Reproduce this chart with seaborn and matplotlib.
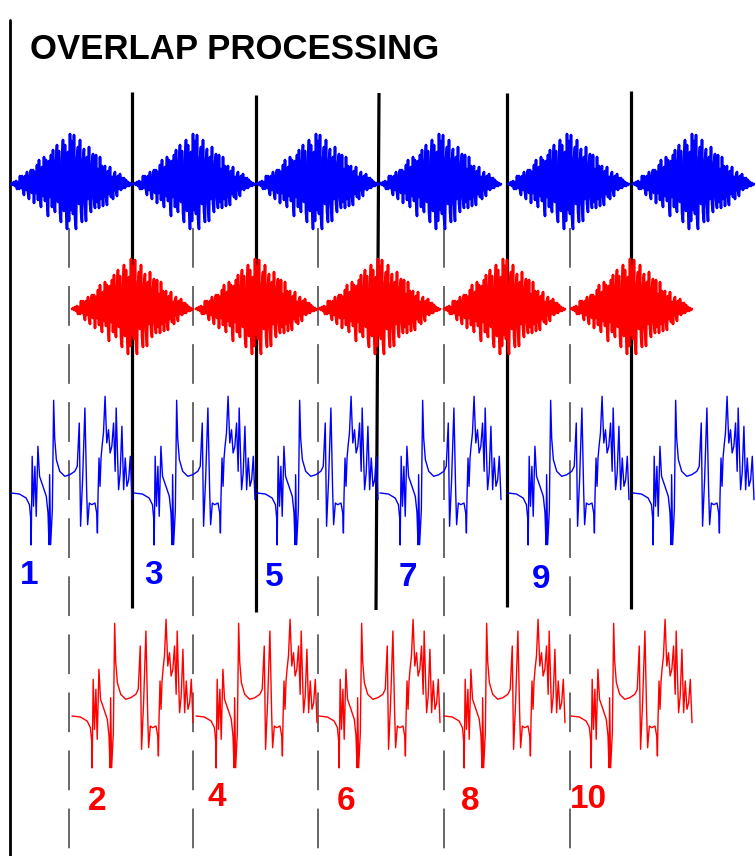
import matplotlib
matplotlib.use("Agg")
import matplotlib.pyplot as plt
import numpy as np
import pandas as pd
import seaborn as sns

TITLE = "OVERLAP PROCESSING"

# One windowed noise frame, sampled evenly (amplitude, positive = up)
burst = [
    0, 1, -1, 2, -2, 3, -5, 2, -5, 8, -4,
    8, -6, -11, 8, -6, 12, -9, -15, 9, 14,
    -9, 14, -19, 12, -9, 19, -16, 24, -12, -23,
    17, -12, 27, -17, 24, -17, -32, 23, -13, 29,
    -23, 34, -18, -28, 23, 39, -18, 33, -29, -38,
    24, 44, -27, 39, -19, -45, 32, -37, 50, -26,
    43, -30, 49, -34, -45, 26, 37, -20, 44, -28,
    -38, 25, 35, -20, -37, 27, -15, 37, -20, -28,
    22, 30, -15, -24, 29, -18, 15, -24, 27, -15,
    18, -22, 11, 18, -13, -21, 13, -10, 17, -13,
    7, -15, 9, 12, -7, -12, 8, -5, 10, -6,
    6, -4, 6, -4, 4, -2, 2, -2, 1, -1, 0,
]

# One processed output frame: sample positions within the frame and amplitudes
frame_pos = [
    0, 8.3, 15, 18.3, 19.5, 20, 21, 22.3, 23.7, 25, 26.7, 28.3, 31.7, 35,
    36.7, 37.7, 38.3, 39.3, 41, 42.3, 43.3, 45, 48.3, 53.3, 58.3, 63.3,
    65.7, 67.7, 69, 71, 73.3, 75, 76, 77.7, 80, 83.3, 85, 85.7, 86.3,
    87.3, 88.3, 89.3, 90.3, 91.7, 93.3, 95, 96.7, 98.3, 100, 101.7,
    103.3, 104.3, 105.7, 106.7, 108.3, 110, 111.7, 113.3, 115, 116.7,
    118.3, 120,
]
frame_amp = [
    0, -1, -5, -11.7, -25, -52, 36.7, -13.3, 26.7, -23.3, 46.7, 16.7, 6.7, -3.3,
    -20, -51.7, 18.3, -51.7, -16.7, 92.7, 55, 33.3, 21.7, 16.7, 18.3, 21.7,
    26.7, 70, -33.3, 13.3, 85, 3.3, -31.7, -10, -11.7, -10, -20, -40, -3.3,
    35, 6.7, 35, 46.7, 60, 96.7, 50, 63.3, 40, 46.7, 70,
    21.7, 85, 36.7, 3.3, 20, 66.7, 3.3, 35, 6.7, 13.3,
    36.7, -6.7,
]

odd_labels = ["1", "3", "5", "7", "9"]
even_labels = ["2", "4", "6", "8", "10"]

# ---- layout on a pixel canvas ----
W, H = 755, 856
BLUE, RED = "#0000FF", "#FF0000"
blue_starts = [11, 134, 257, 380, 508, 633]
red_starts = [72, 196, 319, 444, 571]
burst_width = 121
frame_width = 121
blue_burst_y, red_burst_y = 184, 309
blue_frame_y, red_frame_y = 493, 716
odd_label_xy = [(29, 575), (154, 576), (274, 577), (408, 578), (541, 580)]
even_label_xy = [(97, 801), (217, 798), (346, 802), (470, 802), (588, 800)]
separators = [(132, 132, 92, 608), (256, 256, 95, 612), (379, 376, 93, 610),
              (507, 507, 93, 607), (631, 631, 91, 609)]
half_marks = [69, 193, 318, 444, 570]


def burst_rows(starts, base_y):
    n = len(burst)
    rows = []
    for k, s in enumerate(starts):
        for i, v in enumerate(burst):
            rows.append((k, s + burst_width * i / (n - 1), base_y - v))
    return pd.DataFrame(rows, columns=["seg", "x", "y"])


def frame_rows(starts, base_y):
    rows = []
    for k, s in enumerate(starts):
        for p, v in zip(frame_pos, frame_amp):
            rows.append((k, s + p * frame_width / 120.0, base_y - v))
    return pd.DataFrame(rows, columns=["seg", "x", "y"])


sns.set_style("white")
plt.rcParams["font.family"] = ["Liberation Sans", "DejaVu Sans"]

fig = plt.figure(figsize=(W / 100, H / 100), dpi=100)
ax = fig.add_axes([0, 0, 1, 1])

# frame boundaries
ax.plot([10, 10], [20, H], color="black", lw=2.0, zorder=1)
for xt, xb, yt, yb in separators:
    ax.plot([xt, xb], [yt, yb], color="black", lw=2.3, zorder=1,
            solid_capstyle="butt")
for x in half_marks:
    ax.plot([x, x], [228, H], color="#404040", lw=1.1, zorder=1,
            dashes=(26, 12))

# windowed input frames
sns.lineplot(data=burst_rows(blue_starts, blue_burst_y), x="x", y="y",
             units="seg", estimator=None, sort=False, color=BLUE, lw=1.9,
             ax=ax, zorder=3)
sns.lineplot(data=burst_rows(red_starts, red_burst_y), x="x", y="y",
             units="seg", estimator=None, sort=False, color=RED, lw=1.9,
             ax=ax, zorder=3)

# processed output frames
sns.lineplot(data=frame_rows(blue_starts, blue_frame_y), x="x", y="y",
             units="seg", estimator=None, sort=False, color=BLUE, lw=1.0,
             ax=ax, zorder=3)
sns.lineplot(data=frame_rows(red_starts, red_frame_y), x="x", y="y",
             units="seg", estimator=None, sort=False, color=RED, lw=1.0,
             ax=ax, zorder=3)

ax.set_xlim(0, W)
ax.set_ylim(H, 0)
ax.axis("off")

ax.text(30, 49, TITLE, fontsize=25, fontweight="bold", color="black",
        ha="left", va="center")
for lab, (x, y) in zip(odd_labels, odd_label_xy):
    ax.text(x, y, lab, fontsize=24, fontweight="bold", color=BLUE,
            ha="center", va="center")
for lab, (x, y) in zip(even_labels, even_label_xy):
    ax.text(x, y, lab, fontsize=24, fontweight="bold", color=RED,
            ha="center", va="center")

fig.savefig("out.png", dpi=100, facecolor="white")
